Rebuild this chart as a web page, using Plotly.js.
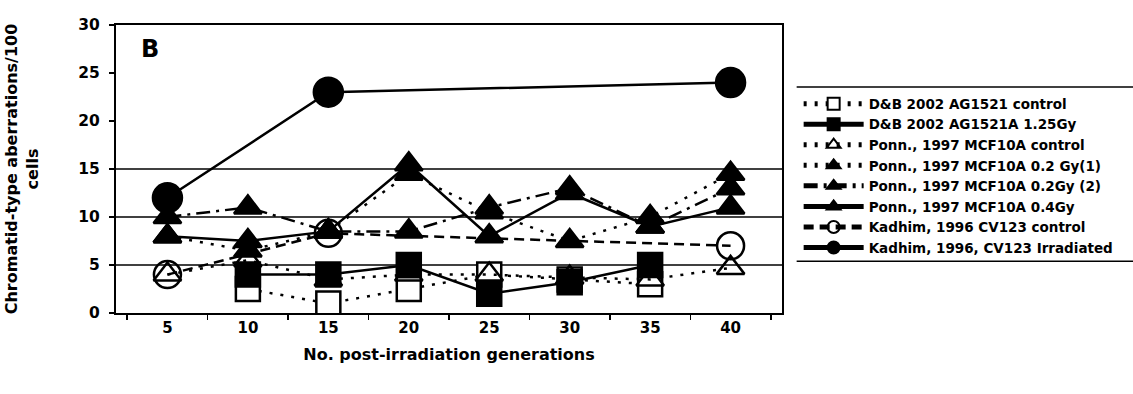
<!DOCTYPE html>
<html>
<head>
<meta charset="utf-8">
<script src="https://cdn.plot.ly/plotly-3.0.1.min.js"></script>
<style>html,body{margin:0;padding:0;background:#fff;}#chart{width:1133px;height:394px;}</style>
</head>
<body>
<div id="chart"></div>
<script>
// ---- data ----
const generations = ['5', '10', '15', '20', '25', '30', '35', '40'];
const dbControl   = [null, 2.5, 1.0, 2.5, 4.0, 3.5, 3.0, null];
const db125Gy     = [null, 4.0, 4.0, 5.0, 2.0, 3.2, 5.0, null];
const ponnControl = [4.0, 5.5, 3.5, 4.0, 4.0, 3.7, 3.5, 4.7];
const ponn02Gy1   = [8.0, 6.5, 8.5, 14.5, 10.5, 7.5, 10.0, 14.5];
const ponn02Gy2   = [10.0, 11.0, 8.5, 8.5, 11.0, 13.0, 9.0, 13.0];
const ponn04Gy    = [8.0, 7.5, 8.5, 15.5, 8.0, 12.5, 9.0, 11.0];
const kadControl  = [4.0, null, 8.3, null, null, null, null, 7.0];
const kadIrr      = [12.0, null, 23.0, null, null, null, null, 24.0];
const seriesNames = [
  'D&B 2002 AG1521 control',
  'D&B 2002 AG1521A 1.25Gy',
  'Ponn., 1997 MCF10A control',
  'Ponn., 1997 MCF10A 0.2 Gy(1)',
  'Ponn., 1997 MCF10A 0.2Gy (2)',
  'Ponn., 1997 MCF10A 0.4Gy',
  'Kadhim, 1996 CV123 control',
  'Kadhim, 1996, CV123 Irradiated'
];
const gridValues = [5, 10, 15];

const FONT = 'DejaVu Sans, Liberation Sans, Arial, sans-serif';
const DOT = '3px,8px';
const DASHDOT = '14px,6px,3px,6px';

function tr(y, idx, symbol, size, dash, fill) {
  return {
    x: generations, y: y, name: seriesNames[idx], type: 'scatter', mode: 'lines+markers',
    connectgaps: true, legendrank: idx + 1,
    line: {color: '#000', width: 2.5, dash: dash},
    marker: {symbol: symbol, size: size, color: fill, line: {color: '#000', width: 2.5}},
    hoverinfo: 'x+y+name'
  };
}

// draw order: open markers first so filled markers cover them
const traces = [
  tr(dbControl,   0, 'square',      24, DOT,     '#fff'),
  tr(ponnControl, 2, 'triangle-up', 24, DOT,     'rgba(255,255,255,0)'),
  tr(kadControl,  6, 'circle',      27, '10px,6px', 'rgba(255,255,255,0)'),
  tr(db125Gy,     1, 'square',      24, 'solid', '#000'),
  tr(ponn02Gy1,   3, 'triangle-up', 24, DOT,     '#000'),
  tr(ponn02Gy2,   4, 'triangle-up', 24, DASHDOT, '#000'),
  tr(ponn04Gy,    5, 'triangle-up', 24, 'solid', '#000'),
  tr(kadIrr,      7, 'circle',      29, 'solid', '#000')
];

const shapes = gridValues.map(v => ({
  type: 'line', xref: 'paper', yref: 'y', x0: 0, x1: 1, y0: v, y1: v,
  line: {color: '#000', width: 1.5}, layer: 'below'
}));
// legend frame lines (top and bottom)
shapes.push({type: 'line', xref: 'paper', yref: 'paper', x0: 1.022, x1: 1.53, y0: 0.785, y1: 0.785, line: {color: '#000', width: 1.5}});
shapes.push({type: 'line', xref: 'paper', yref: 'paper', x0: 1.022, x1: 1.53, y0: 0.18, y1: 0.18, line: {color: '#000', width: 1.5}});

const layout = {
  width: 1133, height: 394,
  margin: {l: 116, r: 351, t: 25, b: 81},
  paper_bgcolor: '#fff', plot_bgcolor: '#fff',
  font: {family: FONT, color: '#000', size: 15, weight: 'bold'},
  showlegend: true,
  legend: {
    x: 1.025, y: 0.78, xanchor: 'left', yanchor: 'top',
    font: {family: FONT, size: 13.5, weight: 'bold', color: '#000'},
    traceorder: 'normal', itemwidth: 60, itemsizing: 'constant',
    bgcolor: 'rgba(0,0,0,0)', borderwidth: 0, tracegroupgap: 0
  },
  xaxis: {
    type: 'category', tickson: 'boundaries', ticks: 'outside', ticklen: 5, tickwidth: 1.5, tickcolor: '#000',
    showline: true, linecolor: '#000', linewidth: 2, mirror: true, showgrid: false, zeroline: false,
    tickfont: {family: FONT, size: 15, weight: 'bold'},
    title: {text: 'No. post-irradiation generations', font: {family: FONT, size: 16, weight: 'bold'}, standoff: 13}
  },
  yaxis: {
    range: [0, 30], dtick: 5, ticks: 'outside', ticklen: 5, tickwidth: 1.5, tickcolor: '#000',
    showline: true, linecolor: '#000', linewidth: 2, mirror: true, showgrid: false, zeroline: false,
    tickfont: {family: FONT, size: 15.5, weight: 'bold'}, ticklabelstandoff: 6,
    title: {text: 'Chromatid-type aberrations/100<br>cells', font: {family: FONT, size: 16, weight: 'bold'}, standoff: 36}
  },
  annotations: [{
    text: 'B', xref: 'paper', yref: 'paper', x: 0.051, y: 0.917, xanchor: 'center', yanchor: 'middle', showarrow: false,
    font: {family: FONT, size: 24, weight: 'bold', color: '#000'}
  }],
  shapes: shapes
};

Plotly.newPlot('chart', traces, layout, {displayModeBar: false, staticPlot: true});
</script>
</body>
</html>
